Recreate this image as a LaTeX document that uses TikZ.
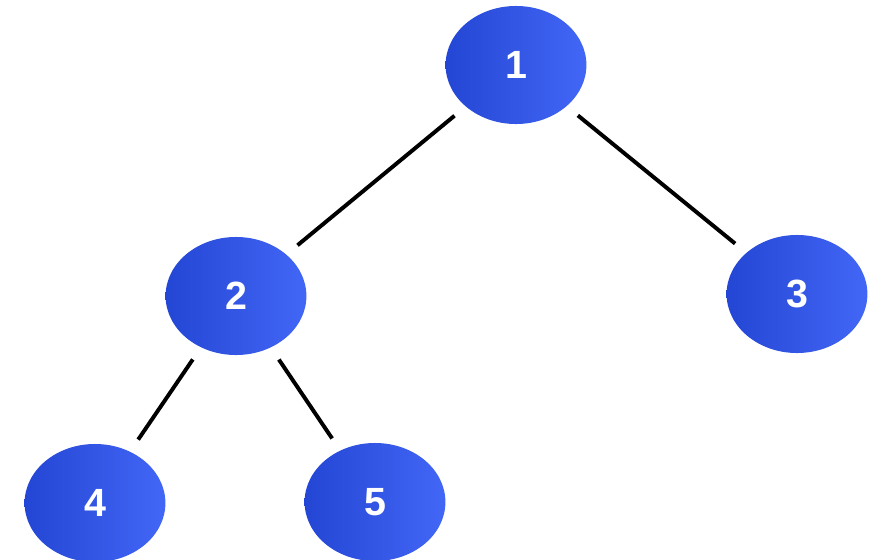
\documentclass[tikz,border=0pt]{standalone}
\usepackage{fontspec}
\setmainfont{Liberation Sans}
\usepackage{tikz}
\usetikzlibrary{shapes.geometric}
\definecolor{treedark}{RGB}{36,70,212}
\definecolor{treelight}{RGB}{66,102,246}

\begin{document}
\begin{tikzpicture}[x=0.025cm,y=-0.025cm,
  treenode/.style={ellipse,minimum width=3.52cm,minimum height=2.95cm,inner sep=0pt,
    shading angle=60,left color=treedark,right color=treelight,
    text=white,font=\fontsize{28}{30}\selectfont\bfseries},
  treeedge/.style={line width=2.8pt,black,shorten <=0.36cm,shorten >=0.36cm}]
\useasboundingbox (0,0) rectangle (884,560);
% nodes of the tree
\node[treenode] (n1) at (516,65) {1};
\node[treenode] (n2) at (236,296) {2};
\node[treenode] (n3) at (797,294) {3};
\node[treenode] (n4) at (95,503) {4};
\node[treenode] (n5) at (375,502) {5};
% edges
\draw[treeedge] (n1) -- (n2);
\draw[treeedge] (n1) -- (n3);
\draw[treeedge] (n2) -- (n4);
\draw[treeedge] (n2) -- (n5);
\end{tikzpicture}
\end{document}
